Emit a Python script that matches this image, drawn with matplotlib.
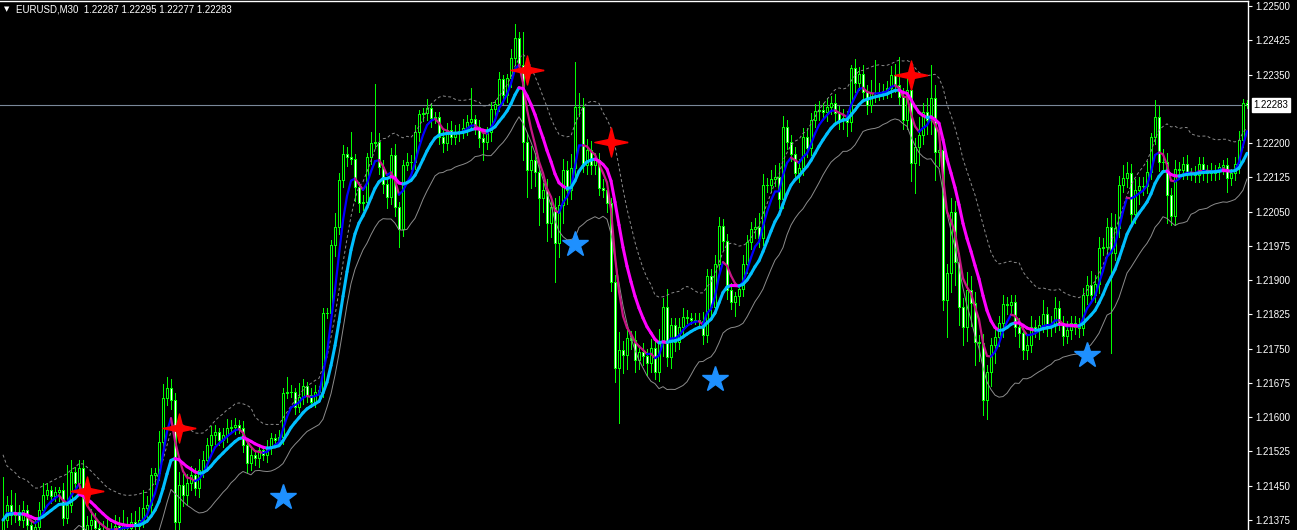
import numpy as np
import pandas as pd
import matplotlib
matplotlib.use("Agg")
import matplotlib.pyplot as plt
from matplotlib.collections import LineCollection
from matplotlib.path import Path

# Prices are stored in points (0.00001) above this level
BASE = 1.21
PT = 0.00001

first_open = 353
close_pts = [
    375, 408, 386, 392, 375, 397, 364, 353, 360, 397, 430, 440,
    427, 436, 440, 379, 408, 480, 456, 489, 342, 364, 375, 357,
    349, 353, 342, 353, 362, 353, 366, 357, 370, 362, 375, 401,
    408, 473, 478, 545, 642, 664, 637, 370, 451, 430, 456, 473,
    445, 484, 506, 539, 561, 567, 550, 561, 576, 578, 583, 576,
    539, 500, 517, 510, 528, 517, 535, 554, 550, 556, 653, 655,
    655, 622, 644, 668, 648, 633, 655, 659, 828, 828, 977, 1016,
    1119, 1176, 1169, 1165, 1104, 1069, 1071, 1169, 1200, 1202, 1147, 1110,
    1082, 1174, 1060, 1012, 1152, 1158, 1158, 1224, 1263, 1266, 1277, 1255,
    1257, 1213, 1200, 1228, 1213, 1224, 1226, 1233, 1246, 1252, 1235, 1211,
    1202, 1224, 1274, 1285, 1340, 1305, 1342, 1386, 1430, 1371, 1202, 1141,
    1163, 1136, 1080, 1097, 1025, 1060, 981, 1064, 1141, 1097, 1145, 1279,
    1279, 1152, 1185, 1152, 1163, 1101, 1097, 1069, 896, 707, 747, 736,
    773, 769, 725, 743, 734, 718, 751, 699, 764, 841, 732, 802,
    764, 797, 819, 817, 813, 813, 810, 780, 909, 841, 935, 1018,
    985, 878, 852, 865, 880, 935, 983, 1012, 1016, 992, 1108, 1108,
    1121, 1126, 1077, 1235, 1202, 1176, 1134, 1145, 1213, 1189, 1250, 1270,
    1272, 1268, 1279, 1288, 1266, 1250, 1255, 1246, 1364, 1331, 1351, 1312,
    1283, 1309, 1309, 1312, 1314, 1320, 1349, 1327, 1301, 1250, 1316, 1156,
    1191, 1217, 1268, 1250, 1298, 1180, 1185, 856, 915, 1049, 939, 841,
    797, 878, 850, 764, 762, 637, 699, 758, 775, 806, 848, 845,
    852, 797, 784, 747, 758, 797, 791, 802, 826, 797, 802, 839,
    806, 778, 791, 806, 797, 795, 867, 889, 867, 891, 970, 972,
    1016, 959, 1014, 1108, 1123, 1134, 1045, 1097, 1106, 1106, 1136, 1213,
    1257, 1158, 1158, 1086, 1040, 1143, 1141, 1154, 1136, 1134, 1130, 1154,
    1134, 1141, 1134, 1141, 1147, 1152, 1123, 1134, 1154, 1207, 1287, 1283,
]

# upper / lower shadow length of each bar, in points
wick_up = [
    94, 20, 33, 42, 15, 20, 10, 12, 15, 18, 25, 15,
    10, 12, 8, 15, 87, 26, 12, 17, 17, 20, 25, 15,
    12, 20, 30, 15, 25, 20, 30, 15, 20, 25, 28, 40,
    20, 15, 10, 25, 30, 25, 20, 15, 30, 25, 20, 20,
    15, 25, 20, 15, 20, 15, 10, 15, 20, 15, 15, 10,
    15, 10, 15, 10, 12, 10, 15, 12, 10, 15, 10, 33,
    15, 10, 30, 15, 10, 15, 15, 10, 10, 10, 10, 30,
    15, 20, 15, 55, 10, 10, 15, 10, 25, 127, 20, 15,
    10, 15, 25, 10, 10, 20, 15, 15, 10, 10, 20, 10,
    12, 10, 15, 15, 20, 15, 15, 20, 15, 68, 10, 15,
    10, 12, 15, 10, 15, 10, 10, 20, 30, 13, 72, 20,
    30, 15, 20, 15, 25, 15, 20, 20, 25, 20, 30, 98,
    30, 20, 25, 20, 15, 15, 20, 15, 10, 15, 40, 20,
    25, 15, 20, 15, 20, 15, 20, 15, 30, 20, 40, 15,
    15, 20, 20, 15, 10, 15, 15, 20, 15, 15, 20, 20,
    15, 15, 15, 10, 10, 20, 15, 15, 20, 30, 25, 15,
    20, 25, 30, 25, 15, 15, 15, 20, 20, 20, 15, 15,
    20, 15, 20, 15, 20, 15, 20, 15, 7, 20, 15, 20,
    15, 30, 72, 20, 15, 15, 20, 25, 61, 20, 30, 25,
    20, 40, 20, 30, 73, 30, 20, 15, 20, 30, 25, 20,
    20, 40, 30, 25, 15, 20, 15, 15, 20, 15, 20, 15,
    15, 15, 20, 15, 20, 25, 15, 20, 30, 15, 20, 25,
    15, 15, 20, 15, 15, 20, 15, 20, 30, 20, 25, 20,
    20, 30, 30, 20, 30, 25, 20, 25, 20, 20, 25, 10,
    37, 25, 30, 20, 15, 20, 15, 15, 20, 10, 15, 15,
    15, 10, 15, 10, 10, 10, 15, 10, 15, 20, 10, 8,
]
wick_dn = [
    20, 15, 20, 15, 10, 15, 20, 10, 15, 10, 15, 10,
    15, 10, 20, 15, 10, 15, 10, 15, 10, 20, 15, 20,
    20, 15, 10, 20, 15, 20, 15, 10, 20, 15, 10, 15,
    20, 15, 20, 15, 20, 15, 20, 20, 30, 25, 20, 15,
    15, 20, 15, 20, 15, 20, 10, 15, 15, 10, 15, 10,
    15, 20, 15, 15, 20, 10, 15, 15, 10, 10, 15, 10,
    10, 15, 10, 15, 15, 10, 10, 10, 15, 10, 20, 25,
    15, 15, 20, 10, 30, 20, 15, 10, 15, 10, 15, 20,
    25, 15, 20, 40, 15, 10, 15, 15, 20, 15, 15, 20,
    10, 15, 20, 15, 15, 15, 20, 15, 15, 15, 15, 20,
    40, 15, 20, 15, 15, 20, 15, 20, 15, 15, 40, 60,
    40, 30, 60, 30, 40, 30, 85, 30, 40, 30, 20, 20,
    20, 15, 20, 20, 20, 15, 15, 20, 20, 30, 120, 40,
    30, 20, 25, 20, 20, 25, 20, 15, 20, 30, 20, 25,
    20, 15, 15, 10, 10, 10, 15, 20, 15, 20, 15, 20,
    20, 20, 15, 30, 20, 15, 20, 15, 20, 20, 15, 15,
    15, 15, 20, 20, 15, 15, 15, 20, 15, 20, 15, 15,
    20, 15, 20, 15, 20, 20, 20, 30, 20, 20, 15, 20,
    20, 15, 20, 15, 15, 15, 20, 15, 15, 20, 20, 40,
    66, 40, 20, 30, 30, 60, 30, 22, 81, 40, 50, 40,
    40, 30, 50, 50, 40, 32, 40, 30, 40, 20, 30, 20,
    20, 20, 30, 20, 20, 15, 15, 20, 15, 20, 20, 15,
    15, 20, 15, 20, 15, 20, 15, 20, 15, 15, 20, 15,
    20, 219, 15, 20, 15, 20, 25, 20, 30, 20, 15, 15,
    15, 20, 20, 60, 20, 20, 15, 20, 15, 15, 15, 15,
    15, 20, 15, 15, 20, 15, 30, 15, 15, 20, 15, 6,
]

# signal arrows of the indicator (bar index, price)
sell_bar = [21, 44, 131, 152, 227]
sell_px = [1.21438, 1.21576, 1.22360, 1.22202, 1.22349]
buy_bar = [70, 143, 178, 271]
buy_px = [1.21425, 1.21979, 1.21683, 1.21736]

symbol = "EURUSD,M30"
last_ohlc = ["1.22287", "1.22295", "1.22277", "1.22283"]
last_price = 1.22283
# 1.22275 sits under the current-price box, so it is left out
tick_prices = [1.22500, 1.22425, 1.22350, 1.22200, 1.22125, 1.22050,
               1.21975, 1.21900, 1.21825, 1.21750, 1.21675, 1.21600, 1.21525,
               1.21450, 1.21375]

GREEN = "#00FF00"


def build_ohlc():
    c = np.array(close_pts, dtype=float)
    o = np.concatenate([[first_open], c[:-1]])
    h = np.maximum(o, c) + np.array(wick_up)
    l = np.minimum(o, c) - np.array(wick_dn)
    df = pd.DataFrame({"open": o, "high": h, "low": l, "close": c}) * PT + BASE
    return df


def colored_line(ax, x, y, up_color, down_color, lw, z):
    pts = np.column_stack([x, y])
    segs = np.stack([pts[:-1], pts[1:]], axis=1)
    rising = np.diff(y) >= 0
    cols = [up_color if r else down_color for r in rising]
    lc = LineCollection(segs, colors=cols, linewidths=lw, zorder=z, capstyle="round")
    ax.add_collection(lc)


df = build_ohlc()
idx = np.arange(len(df))

# indicator lines
slow = df["close"].ewm(span=6).mean().ewm(span=6).mean()
fast = df["close"].ewm(span=3).mean().ewm(span=3).mean()
atr = (df["high"] - df["low"]).rolling(20, min_periods=1).mean()
upper = slow + 1.05 * atr
lower = slow - 1.05 * atr

fig = plt.figure(figsize=(12.97, 5.30), dpi=100, facecolor="black")
ax = fig.add_axes([0, 0, 1248 / 1297, 529 / 530], facecolor="black")

# candles: crisp 1px shadows and outlines like the terminal draws them
ax.vlines(idx, df["low"], df["high"], color=GREEN, lw=0.72, zorder=2, antialiased=False)
bull = df["close"] >= df["open"]
body_lo = np.minimum(df["open"], df["close"])
body_h = np.abs(df["close"] - df["open"])
bars = ax.bar(idx, body_h, bottom=body_lo, width=0.7,
              color=np.where(bull, "black", "white"), edgecolor=GREEN, linewidth=0.72, zorder=3)
for b in bars:
    b.set_antialiased(False)

# bands and moving averages
ax.plot(idx, upper, color="#8c8c8c", lw=0.7, ls=(0, (3, 2.5)), zorder=4)
ax.plot(idx, lower, color="#8c8c8c", lw=0.7, zorder=4)
colored_line(ax, idx, fast.values, "#0000FF", "#C71585", 1.6, 5)
colored_line(ax, idx, slow.values, "#00BFFF", "#FF00FF", 2.2, 6)

# current price line
ax.axhline(last_price, color="#7A8899", lw=0.8, zorder=1)

# signals
sparkle = Path([(1.15, 0), (0.2, 0.2), (0, 1), (-0.2, 0.2), (-1.15, 0),
                (-0.2, -0.2), (0, -1), (0.2, -0.2), (1.15, 0)])
ax.plot(sell_bar, sell_px, ls="none", marker=sparkle, ms=24, color="#FF0000", zorder=7)
ax.plot(buy_bar, buy_px, ls="none", marker="*", ms=19, color="#1E90FF", zorder=7)

ax.set_xlim(-0.75, len(df) - 0.75)
ax.set_ylim(1.225 - 524 / 45690, 1.225 + 5 / 45690)

# axis styling
for side in ["left", "bottom"]:
    ax.spines[side].set_visible(False)
for side in ["top", "right"]:
    ax.spines[side].set_color("white")
    ax.spines[side].set_linewidth(1)
ax.set_xticks([])
ax.yaxis.tick_right()
ax.set_yticks(tick_prices)
ax.set_yticklabels([f"{p:.5f}" for p in tick_prices])
ax.tick_params(axis="y", colors="white", length=3, width=0.8, pad=2,
               labelsize=7, labelfontfamily="Liberation Sans")

ax.annotate(f"{last_price:.5f}", xy=(1.0, last_price), xycoords=("axes fraction", "data"),
            xytext=(4, 0), textcoords="offset points", va="center", ha="left",
            fontsize=7, family="Liberation Sans", color="black", zorder=10,
            bbox=dict(boxstyle="square,pad=0.2", fc="white", ec="white"),
            annotation_clip=False)

fig.text(4 / 1297, 1 - 9 / 530, "\u25bc", color="white", fontsize=5, va="center", ha="left")
fig.text(16 / 1297, 1 - 9 / 530, symbol + "  " + " ".join(last_ohlc), color="white",
         fontsize=7, family="Liberation Sans", va="center", ha="left")

fig.savefig("out.png", dpi=100, facecolor="black")
